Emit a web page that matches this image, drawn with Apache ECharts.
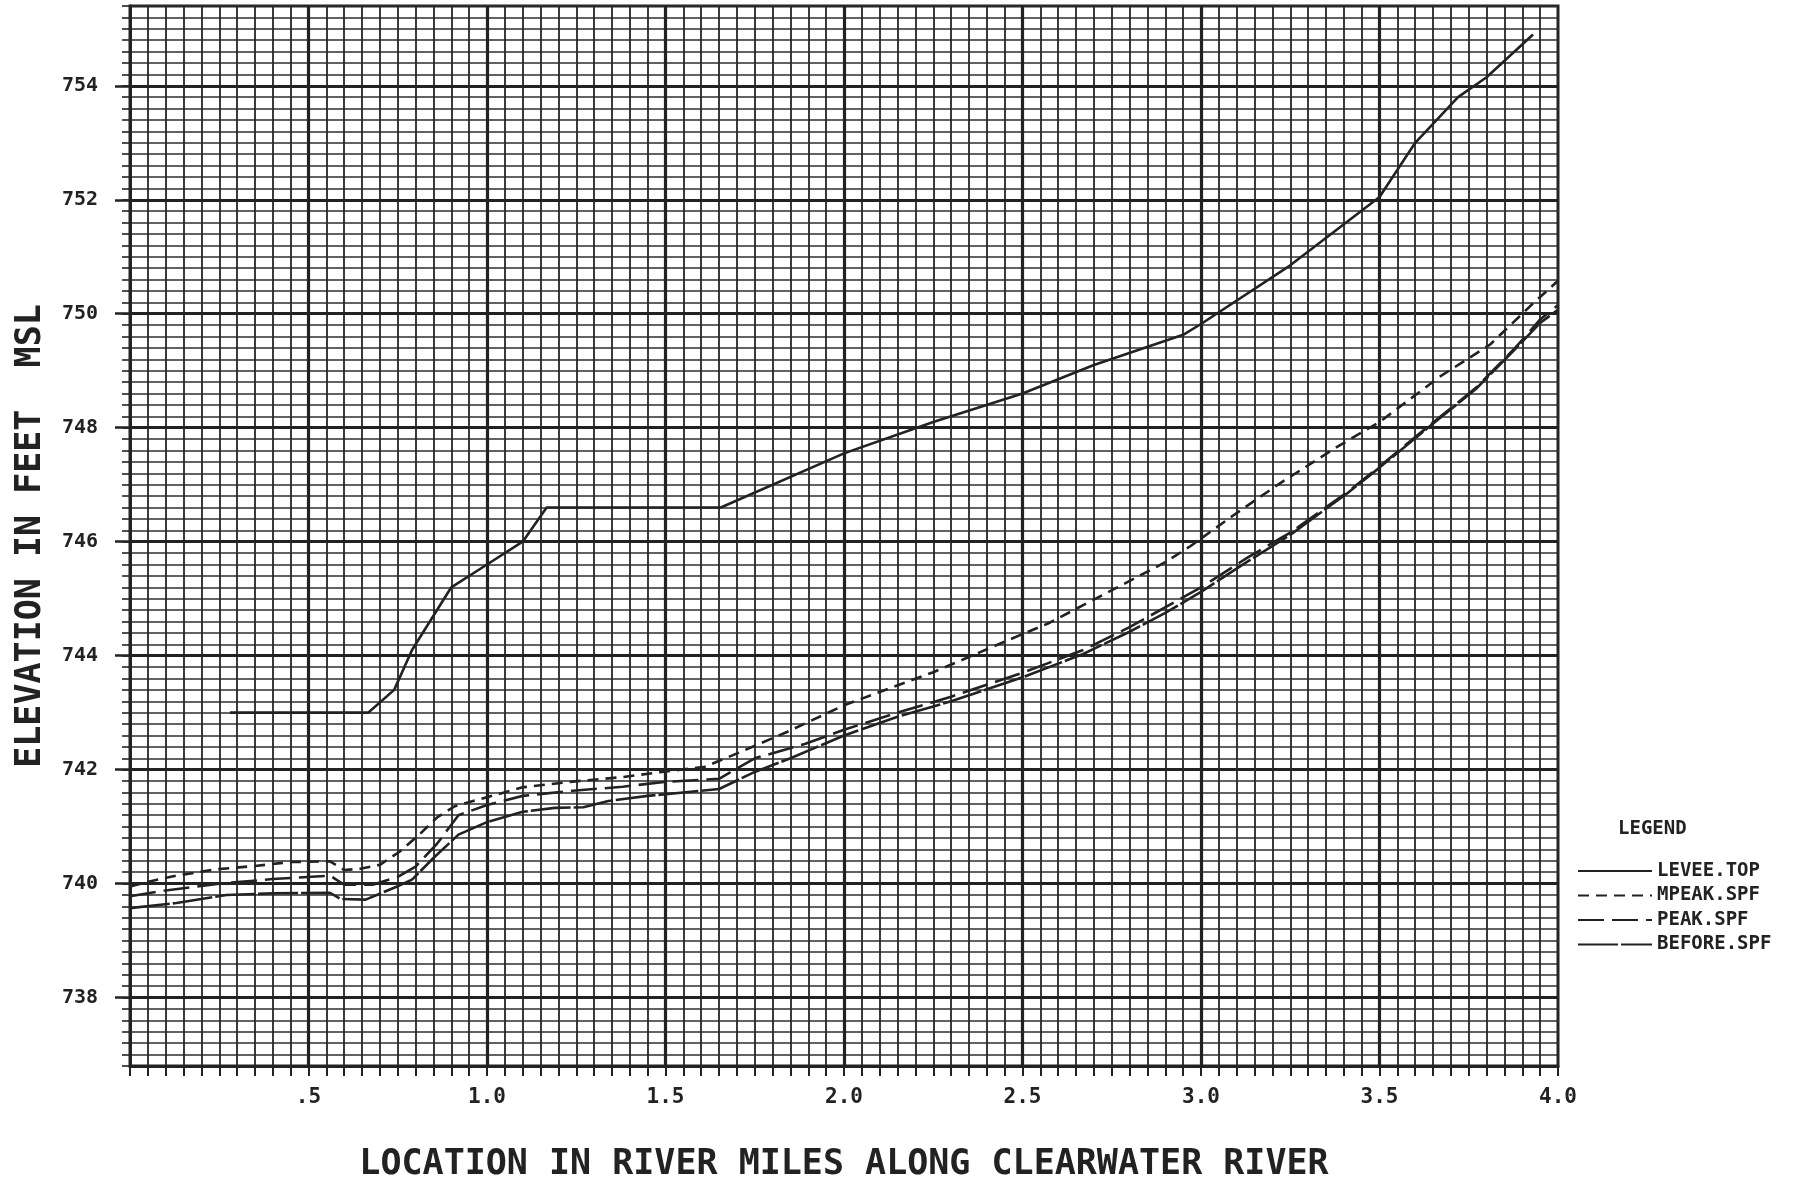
<!DOCTYPE html>
<html>
<head>
<meta charset="utf-8">
<script src="https://cdn.jsdelivr.net/npm/echarts@6/dist/echarts.min.js"></script>
<style>
html,body{margin:0;padding:0;background:#fff;}
#chart{width:1802px;height:1183px;}
</style>
</head>
<body>
<div id="chart"></div>
<script>
// ---- data (river mile, elevation ft MSL) ----
const leveeTop = [
  [0.28,743.0],[0.667,743.0],[0.74,743.4],[0.79,744.1],[0.85,744.7],[0.90,745.2],
  [1.0,745.6],[1.10,746.0],[1.167,746.6],[1.655,746.6],[2.0,747.55],[2.25,748.1],
  [2.5,748.6],[2.7,749.1],[2.95,749.63],[3.0,749.82],[3.25,750.85],[3.5,752.05],
  [3.6,753.0],[3.72,753.8],[3.80,754.15],[3.93,754.9]
];
const mpeakSpf = [
  [0.0,739.95],[0.07,740.06],[0.13,740.14],[0.24,740.25],[0.35,740.31],[0.45,740.38],
  [0.56,740.39],[0.60,740.24],[0.645,740.26],[0.70,740.33],[0.755,740.56],[0.81,740.86],
  [0.86,741.16],[0.91,741.36],[0.99,741.5],[1.10,741.69],[1.24,741.79],[1.38,741.87],
  [1.49,741.96],[1.61,742.05],[1.71,742.31],[1.84,742.66],[2.0,743.13],[2.25,743.71],
  [2.5,744.38],[2.57,744.56],[2.76,745.18],[2.90,745.64],[2.97,745.92],[3.09,746.46],
  [3.22,747.02],[3.38,747.66],[3.5,748.1],[3.67,748.9],[3.81,749.46],[3.93,750.18],[4.0,750.58]
];
const peakSpf = [
  [0.0,739.78],[0.10,739.88],[0.25,740.0],[0.40,740.08],[0.56,740.14],[0.60,739.98],
  [0.68,739.98],[0.75,740.12],[0.80,740.3],[0.86,740.7],[0.92,741.2],[1.0,741.38],
  [1.10,741.54],[1.24,741.63],[1.38,741.7],[1.49,741.78],[1.65,741.84],[1.75,742.2],
  [1.89,742.45],[2.0,742.7],[2.15,743.0],[2.3,743.28],[2.5,743.7],[2.67,744.1],
  [2.8,744.5],[3.0,745.2],[3.13,745.72],[3.25,746.16],[3.41,746.87],[3.5,747.32],
  [3.64,748.04],[3.77,748.7],[3.88,749.4],[3.95,749.9],[4.0,750.15]
];
const beforeSpf = [
  [0.0,739.57],[0.13,739.66],[0.27,739.80],[0.40,739.83],[0.56,739.84],[0.59,739.73],
  [0.66,739.72],[0.745,739.94],[0.79,740.07],[0.85,740.45],[0.92,740.86],[1.0,741.08],
  [1.10,741.26],[1.19,741.33],[1.27,741.34],[1.34,741.45],[1.45,741.54],[1.55,741.6],
  [1.65,741.66],[1.75,741.96],[1.85,742.2],[2.0,742.6],[2.15,742.93],[2.3,743.2],
  [2.5,743.62],[2.67,744.03],[2.8,744.42],[2.9,744.75],[3.0,745.12],[3.13,745.65],
  [3.25,746.12],[3.41,746.85],[3.5,747.3],[3.64,748.02],[3.77,748.68],[3.88,749.38],
  [3.95,749.84],[4.0,750.07]
];
const xTickLabels = [0.5,1.0,1.5,2.0,2.5,3.0,3.5,4.0];
const yTickLabels = [738,740,742,744,746,748,750,752,754];
const xMajorGrid = [0.5,1.0,1.5,2.0,2.5,3.0,3.5];
const yMajorGrid = [738,740,742,744,746,748,750,752,754];

const INK = '#222';
const FONT = '"DejaVu Sans Mono", monospace';

const chart = echarts.init(document.getElementById('chart'), null, {renderer:'canvas'});

const option = {
  backgroundColor: '#fff',
  animation: false,
  title: {
    text: 'LEGEND', left: 1618, top: 820, padding: 0,
    textStyle: {fontFamily: FONT, fontWeight: 'bold', fontSize: 19, color: INK}
  },
  legend: {
    data: ['LEVEE.TOP','MPEAK.SPF','PEAK.SPF','BEFORE.SPF'],
    orient: 'vertical', left: 1572, top: 856,
    itemWidth: 74, itemHeight: 14, itemGap: 4.5,
    itemStyle: {opacity: 0},
    textStyle: {fontFamily: FONT, fontWeight: 'bold', fontSize: 19, color: INK, lineHeight: 20}
  },
  grid: {
    left: 130, right: 244, top: 6, bottom: 117,
    outerBoundsMode: 'none', containLabel: false,
    show: true, borderColor: INK, borderWidth: 3, backgroundColor: 'transparent'
  },
  xAxis: [{
    type: 'value', min: 0, max: 4, interval: 0.05,
    axisLine: {show: true, lineStyle: {color: INK, width: 3}},
    axisTick: {show: true, length: 10, lineStyle: {color: INK, width: 2}},
    axisLabel: {
      customValues: xTickLabels, margin: 21,
      fontFamily: FONT, fontWeight: 'bold', fontSize: 21, color: INK,
      formatter: v => (v < 1 ? '.' + Math.round(v*10) : v.toFixed(1))
    },
    splitLine: {show: true, lineStyle: {color: '#262626', width: 1.8}},
    name: 'LOCATION IN RIVER MILES ALONG CLEARWATER RIVER',
    nameLocation: 'middle', nameGap: 81,
    nameTextStyle: {fontFamily: FONT, fontWeight: 'bold', fontSize: 35, color: INK}
  }],
  yAxis: [{
    type: 'value', min: 736.8, max: 755.4, interval: 0.2,
    axisLine: {show: true, lineStyle: {color: INK, width: 3}},
    axisTick: {show: true, length: 8, lineStyle: {color: INK, width: 1.6}},
    axisLabel: {
      customValues: yTickLabels, margin: 32,
      fontFamily: FONT, fontWeight: 'bold', fontSize: 20, color: INK
    },
    splitLine: {show: true, lineStyle: {color: '#2e2e2e', width: 1.7}},
    name: 'ELEVATION IN FEET  MSL',
    nameLocation: 'middle', nameGap: 82, nameRotate: 90,
    nameTextStyle: {fontFamily: FONT, fontWeight: 'bold', fontSize: 35, color: INK}
  },{
    type: 'value', min: 736.8, max: 755.4, position: 'left', offset: 0,
    axisLine: {show: false},
    axisTick: {show: true, customValues: yTickLabels, length: 15, lineStyle: {color: INK, width: 2.5}},
    axisLabel: {show: false},
    splitLine: {show: false}
  }],
  series: [
    {
      name: 'majorGrid', type: 'line', data: [], z: 1, silent: true,
      markLine: {
        silent: true, symbol: 'none', animation: false,
        label: {show: false},
        lineStyle: {color: INK, width: 3.2, type: 'solid'},
        data: xMajorGrid.map(v => ({xAxis: v})).concat(yMajorGrid.map(v => ({yAxis: v})))
      }
    },
    {
      name: 'LEVEE.TOP', type: 'line', data: leveeTop, symbol: 'none', z: 5,
      lineStyle: {color: INK, width: 2.6, type: 'solid'}, itemStyle: {color: INK}
    },
    {
      name: 'MPEAK.SPF', type: 'line', data: mpeakSpf, symbol: 'none', z: 5,
      lineStyle: {color: INK, width: 2.6, type: [11, 7]}, itemStyle: {color: INK}
    },
    {
      name: 'PEAK.SPF', type: 'line', data: peakSpf, symbol: 'none', z: 5,
      lineStyle: {color: INK, width: 2.6, type: [26, 8]}, itemStyle: {color: INK}
    },
    {
      name: 'BEFORE.SPF', type: 'line', data: beforeSpf, symbol: 'none', z: 5,
      lineStyle: {color: INK, width: 2.6, type: [40, 3]}, itemStyle: {color: INK}
    }
  ]
};
chart.setOption(option);
</script>
</body>
</html>
